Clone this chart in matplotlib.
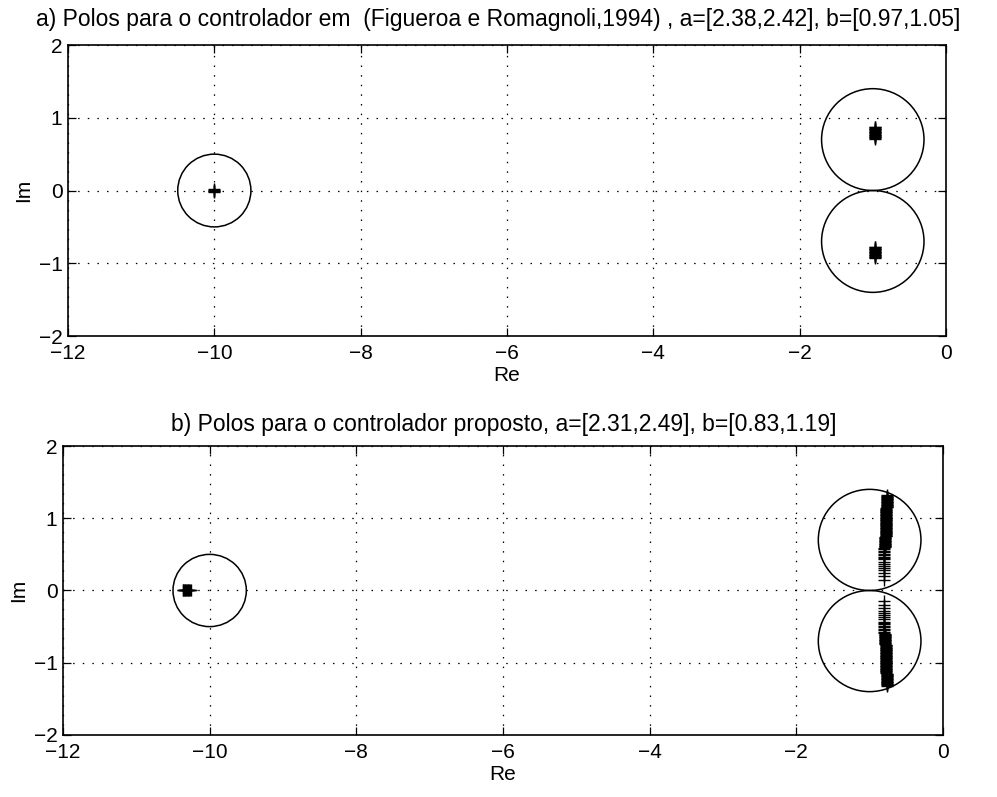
import matplotlib
matplotlib.use("Agg")
import matplotlib.pyplot as plt
from matplotlib.patches import Circle

plt.rcParams['font.family'] = ['Liberation Sans', 'DejaVu Sans']

# Region circles (centre re, centre im, radius), same in both panels
circle_re = [-10.0, -1.0, -1.0]
circle_im = [0.0, 0.70, -0.70]
circle_r = [0.5, 0.70, 0.70]

# Panel a: closed-loop poles for the reference controller
poles_a_left_re = [-10.0, -10.0, -10.0, -10.0, -10.0]
poles_a_left_im = [-0.02, -0.01, 0.0, 0.01, 0.02]

poles_a_up_re = [-0.97, -0.97, -0.97, -0.97, -0.97, -0.97, -0.97, -0.97, -0.97,
                 -0.97, -0.97, -0.97, -0.97, -0.97, -0.97, -0.97, -0.97, -0.97]
poles_a_up_im = [0.71, 0.72, 0.73, 0.74, 0.75, 0.76, 0.77, 0.78, 0.79,
                 0.80, 0.81, 0.82, 0.83, 0.84, 0.85, 0.86, 0.87, 0.88]

poles_a_lo_re = [-0.97, -0.97, -0.97, -0.97, -0.97, -0.97, -0.97, -0.97, -0.97,
                 -0.97, -0.97, -0.97, -0.97, -0.97, -0.97, -0.97, -0.97]
poles_a_lo_im = [-0.77, -0.78, -0.79, -0.80, -0.81, -0.82, -0.83, -0.84, -0.85,
                 -0.86, -0.87, -0.88, -0.89, -0.90, -0.91, -0.92, -0.93]

# Panel b: closed-loop poles for the proposed controller
poles_b_left_re = [-10.37, -10.36, -10.35, -10.34, -10.33, -10.32, -10.31,
                   -10.30, -10.29, -10.28, -10.27, -10.26]
poles_b_left_im = [0.0, 0.0, 0.0, 0.0, 0.0, 0.0, 0.0, 0.0, 0.0, 0.0, 0.0, 0.0]

# upper branch on the right (the lower branch is its complex conjugate)
poles_b_re = ([-0.81, -0.81, -0.81] + [-0.80] * 9 +
              [-0.80] * 5 +
              [-0.79] * 15 +
              [-0.78] * 20 +
              [-0.77] * 20 +
              [-0.76] * 18)
poles_b_im = [0.15, 0.20, 0.24, 0.28, 0.31, 0.34, 0.37, 0.40, 0.43, 0.45,
              0.47, 0.49,
              0.51, 0.53, 0.55, 0.57, 0.59,
              0.60, 0.61, 0.62, 0.63, 0.64, 0.65, 0.66, 0.67, 0.68, 0.69,
              0.70, 0.71, 0.72, 0.73, 0.74,
              0.75, 0.76, 0.77, 0.78, 0.79, 0.80, 0.81, 0.82, 0.83, 0.84,
              0.85, 0.86, 0.87, 0.88, 0.89, 0.90, 0.91, 0.92, 0.93, 0.94,
              0.95, 0.96, 0.97, 0.98, 0.99, 1.00, 1.01, 1.02, 1.03, 1.04,
              1.05, 1.06, 1.07, 1.08, 1.09, 1.10, 1.11, 1.12, 1.13, 1.14,
              1.15, 1.16, 1.17, 1.18, 1.19, 1.20, 1.21, 1.22, 1.23, 1.24,
              1.25, 1.26, 1.27, 1.28, 1.29, 1.30, 1.31, 1.32]

xticks = [-12, -10, -8, -6, -4, -2, 0]
yticks = [-2, -1, 0, 1, 2]

title_a = "a) Polos para o controlador em  (Figueroa e Romagnoli,1994) , a=[2.38,2.42], b=[0.97,1.05]"
title_b = "b) Polos para o controlador proposto, a=[2.31,2.49], b=[0.83,1.19]"

fig = plt.figure(figsize=(9.97, 7.97), dpi=100)
ax_a = fig.add_axes([0.0682, 0.5784, 0.8806, 0.3651])
ax_b = fig.add_axes([0.0632, 0.0778, 0.8826, 0.3626])


def fmt(t):
    return f"\u2212{-t}" if t < 0 else str(t)


def style(ax):
    ax.set_xlim(-12, 0)
    ax.set_ylim(-2, 2)
    ax.set_xticks(xticks)
    ax.set_yticks(yticks)
    ax.set_xticklabels([fmt(t) for t in xticks])
    ax.set_yticklabels([fmt(t) for t in yticks])
    ax.tick_params(direction='in', length=6, width=0.9, labelsize=15,
                   top=True, right=True)
    ax.tick_params(axis='x', pad=6)
    ax.tick_params(axis='y', pad=4)
    ax.grid(True, linestyle=(0, (1.2, 6.5)), color='black', linewidth=0.9)
    for s in ax.spines.values():
        s.set_linewidth(1.2)
    ax.set_xlabel("Re", fontsize=15, labelpad=2)
    ax.set_ylabel("Im", fontsize=15, labelpad=4)
    for cx, cy, r in zip(circle_re, circle_im, circle_r):
        ax.add_patch(Circle((cx, cy), r, fill=False, edgecolor='black', linewidth=1.1))


style(ax_a)
style(ax_b)

mk = dict(linestyle='none', marker='+', color='black', markersize=9, markeredgewidth=1.0)
ax_a.plot(poles_a_left_re, poles_a_left_im, **mk)
ax_a.plot(poles_a_up_re, poles_a_up_im, **mk)
ax_a.plot(poles_a_lo_re, poles_a_lo_im, **mk)

ax_b.plot(poles_b_left_re, poles_b_left_im, **mk)
ax_b.plot(poles_b_re, poles_b_im, **mk)
ax_b.plot(poles_b_re, [-v for v in poles_b_im], **mk)

fig.text(0.500, 0.975, title_a, ha='center', va='center', fontsize=16.5)
fig.text(0.505, 0.467, title_b, ha='center', va='center', fontsize=16.5)

fig.savefig("out.png", dpi=100)
